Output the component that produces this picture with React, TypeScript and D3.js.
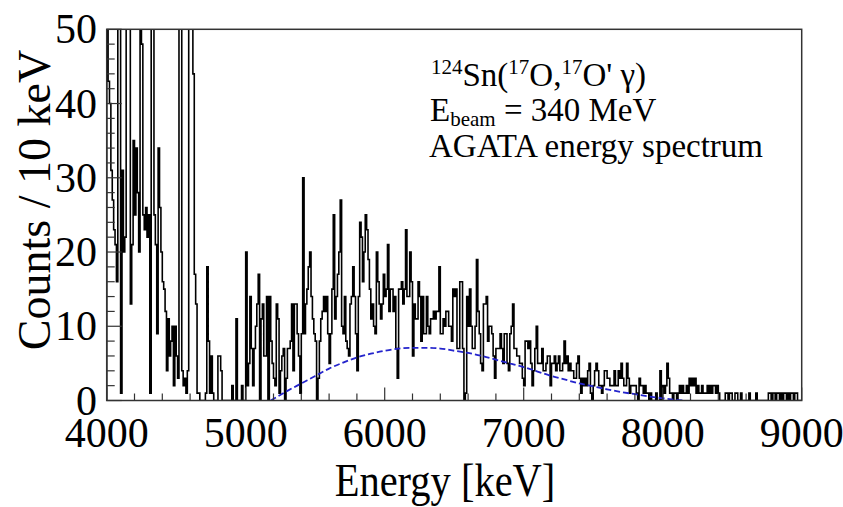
import React from "react";
import * as d3 from "d3";

// ---- Data (counts per 10 keV bin, starting at each segment's energy) ----
const binWidthKeV = 10;
const counts4000 = [
  62, 43, 40, 31, 27, 23, 21, 16, 58, 64,
  1, 31, 20, 22, 70, 55, 62, 13, 21, 35,
  25, 34, 28, 20, 72, 48, 25, 23, 26, 22,
  25, 1, 66, 58, 25, 21, 9, 34, 26, 20,
  16, 15, 12, 4, 11, 6, 8, 10, 2, 10,
];
const counts4500 = [
  6, 3, 55, 62, 4, 2, 3, 1, 4, 70,
  80, 58, 44, 17, 13, 1, 1, 0, 0, 0,
  0, 1, 18, 8, 1, 6, 1, 0, 0, 0,
  6, 6, 4, 0, 0, 0, 0, 0, 0, 0,
  2, 0, 0, 11, 0, 0, 0, 2, 0, 0,
];
const counts5000 = [
  20, 2, 5, 14, 7, 2, 7, 10, 13, 17,
  0, 11, 13, 6, 6, 14, 0, 14, 8, 5,
  3, 2, 13, 11, 1, 4, 6, 7, 0, 3,
  7, 7, 8, 13, 4, 13, 13, 9, 6, 1,
  9, 30, 9, 13, 15, 18, 20, 14, 11, 9,
];
const counts5500 = [
  8, 0, 3, 8, 11, 12, 14, 12, 14, 9,
  5, 9, 15, 25, 11, 14, 17, 20, 27, 10,
  9, 14, 8, 7, 6, 13, 14, 18, 14, 9,
  4, 14, 24, 22, 16, 20, 25, 23, 19, 15,
  11, 13, 10, 9, 20, 16, 13, 11, 13, 17,
];
const counts6000 = [
  14, 15, 21, 12, 15, 15, 12, 14, 7, 3,
  15, 15, 16, 13, 15, 23, 14, 14, 20, 16,
  6, 13, 11, 11, 16, 14, 8, 14, 9, 9,
  14, 10, 9, 11, 11, 12, 11, 12, 12, 18,
  9, 9, 11, 10, 12, 12, 10, 10, 8, 15,
];
const counts6500 = [
  14, 15, 7, 7, 16, 16, 7, 0, 1, 14,
  10, 15, 10, 7, 7, 10, 19, 12, 9, 5,
  4, 13, 13, 14, 8, 10, 10, 9, 6, 3,
  7, 7, 7, 9, 7, 5, 9, 9, 5, 4,
  9, 10, 13, 7, 7, 6, 6, 5, 5, 3,
];
const counts7000 = [
  2, 8, 8, 7, 8, 5, 2, 4, 7, 10,
  5, 5, 5, 7, 4, 4, 5, 6, 6, 2,
  5, 5, 6, 4, 5, 6, 4, 4, 5, 8,
  5, 6, 4, 5, 4, 4, 3, 3, 5, 6,
  3, 1, 3, 2, 3, 2, 4, 5, 1, 0,
];
const counts7500 = [
  2, 4, 5, 4, 2, 2, 1, 2, 4, 4,
  3, 3, 2, 2, 2, 4, 2, 2, 4, 3,
  5, 3, 2, 2, 5, 3, 1, 2, 2, 2,
  2, 1, 0, 3, 2, 2, 1, 2, 1, 1,
  0, 1, 0, 0, 0, 1, 0, 0, 4, 0,
];
const counts8000 = [
  2, 1, 2, 5, 3, 1, 1, 0, 1, 1,
  0, 1, 2, 1, 2, 1, 1, 2, 1, 3,
  2, 3, 2, 3, 1, 2, 1, 1, 2, 1,
  1, 1, 2, 1, 2, 1, 2, 2, 1, 2,
  1, 0, 0, 0, 0, 1, 1, 0, 1, 1,
];
const counts8500 = [
  0, 0, 1, 1, 0, 0, 1, 0, 0, 0,
  0, 0, 1, 0, 0, 0, 0, 1, 0, 0,
  0, 0, 0, 0, 0, 0, 1, 1, 0, 1,
  1, 0, 1, 1, 0, 1, 0, 1, 1, 0,
  1, 0, 1, 1, 0, 1, 1, 0, 0, 0,
];
const segmentStarts = [4000, 4500, 5000, 5500, 6000, 6500, 7000, 7500, 8000, 8500];
const segments = [counts4000, counts4500, counts5000, counts5500, counts6000, counts6500, counts7000, counts7500, counts8000, counts8500];

// Fitted curve (blue dashed)
const fitEnergy = [5180, 5300, 5400, 5500, 5600, 5700, 5800, 5900, 6000, 6100, 6200, 6300, 6400, 6500, 6600, 6700, 6800, 6900, 7000, 7100, 7200, 7300, 7400, 7500, 7600, 7700, 7800, 7900, 8000, 8100, 8150];
const fitValue = [0, 1.3, 2.3, 3.3, 4.3, 5.1, 5.8, 6.3, 6.7, 7.0, 7.1, 7.1, 7.0, 6.7, 6.4, 6.0, 5.5, 5.0, 4.5, 3.9, 3.3, 2.8, 2.3, 1.9, 1.5, 1.15, 0.85, 0.55, 0.3, 0.08, 0];

const xDomain = [4000, 9000];
const yDomain = [0, 50];
const xTickLabels = ["4000", "5000", "6000", "7000", "8000", "9000"];
const yTickLabels = ["0", "10", "20", "30", "40", "50"];
const xTitle = "Energy [keV]";
const yTitle = "Counts / 10 keV";

const W = 843;
const H = 507;
const L = 106.7, R = 801.7, T = 29.3, B = 400.5;
const FONT = "'Liberation Serif', 'Times New Roman', serif";

export default function App() {
  const x = d3.scaleLinear().domain(xDomain).range([L, R]);
  const y = d3.scaleLinear().domain(yDomain).range([B, T]);

  const bins: [number, number][] = [];
  segments.forEach((seg, s) => {
    seg.forEach((c, i) => bins.push([segmentStarts[s] + i * binWidthKeV, c]));
  });
  const stepPts: [number, number][] = [[xDomain[0], 0], ...bins, [xDomain[1], bins[bins.length - 1][1]], [xDomain[1], 0]];
  const histLine = d3
    .line<[number, number]>()
    .x((d) => x(d[0]))
    .y((d) => y(d[1]))
    .curve(d3.curveStepAfter);
  const histPath = histLine(stepPts) || "";

  const fitPts = fitEnergy.map((e, i) => [e, fitValue[i]] as [number, number]);
  const fitPath =
    d3
      .line<[number, number]>()
      .x((d) => x(d[0]))
      .y((d) => y(d[1]))
      .curve(d3.curveMonotoneX)(fitPts) || "";

  const xMajor = x.ticks(5);
  const xMinor = x.ticks(25).filter((t) => !xMajor.includes(t));
  const yMajor = y.ticks(5);
  const yMinor = y.ticks(25).filter((t) => !yMajor.includes(t));

  return (
    <svg width={W} height={H} style={{ position: "absolute", left: 0, top: 0, background: "#fff", fontFamily: FONT }}>
      <defs>
        <clipPath id="frameClip">
          <rect x={L} y={T} width={R - L} height={B - T} />
        </clipPath>
      </defs>
      <rect x={0} y={0} width={W} height={H} fill="#fff" />
      <g clipPath="url(#frameClip)">
        <path d={histPath} fill="none" stroke="#000" strokeWidth={1.6} />
        <path d={fitPath} fill="none" stroke="#2424cc" strokeWidth={1.8} strokeDasharray="6,3" />
      </g>
      {/* frame */}
      <rect x={L} y={T} width={R - L} height={B - T} fill="none" stroke="#333" strokeWidth={1.5} />
      {/* x ticks */}
      {xMajor.map((t) => (
        <line key={"xM" + t} x1={x(t)} x2={x(t)} y1={B} y2={B - 13} stroke="#333" strokeWidth={1.2} />
      ))}
      {xMinor.map((t) => (
        <line key={"xm" + t} x1={x(t)} x2={x(t)} y1={B} y2={B - 7} stroke="#333" strokeWidth={1.2} />
      ))}
      {/* y ticks */}
      {yMajor.map((t) => (
        <line key={"yM" + t} x1={L} x2={L + 15} y1={y(t)} y2={y(t)} stroke="#333" strokeWidth={1.2} />
      ))}
      {yMinor.map((t) => (
        <line key={"ym" + t} x1={L} x2={L + 8} y1={y(t)} y2={y(t)} stroke="#333" strokeWidth={1.2} />
      ))}
      {/* tick labels */}
      {xMajor.map((t, i) => (
        <text key={"xl" + t} x={x(t)} y={447} textAnchor="middle" fontSize={42} fill="#000">
          {xTickLabels[i]}
        </text>
      ))}
      {yMajor.map((t, i) => (
        <text key={"yl" + t} x={97} y={y(t) + 14} textAnchor="end" fontSize={42} fill="#000">
          {yTickLabels[i]}
        </text>
      ))}
      {/* axis titles */}
      <text transform="translate(445,496) scale(0.88,1)" textAnchor="middle" fontSize={46} fill="#000">
        {xTitle}
      </text>
      <text transform="translate(50,200) rotate(-90)" textAnchor="middle" fontSize={46} fill="#000">
        {yTitle}
      </text>
      {/* annotation */}
      <text x={431} y={86} fontSize={33} fill="#000">
        <tspan fontSize={21} dy={-12}>124</tspan>
        <tspan dy={12}>Sn(</tspan>
        <tspan fontSize={21} dy={-12}>17</tspan>
        <tspan dy={12}>O,</tspan>
        <tspan fontSize={21} dy={-12}>17</tspan>
        <tspan dy={12}>O' γ)</tspan>
      </text>
      <text x={430} y={121} fontSize={33} fill="#000">
        <tspan>E</tspan>
        <tspan fontSize={21} dy={5}>beam</tspan>
        <tspan dy={-5}> = 340 MeV</tspan>
      </text>
      <text x={429} y={157} fontSize={33} fill="#000">
        AGATA energy spectrum
      </text>
    </svg>
  );
}
